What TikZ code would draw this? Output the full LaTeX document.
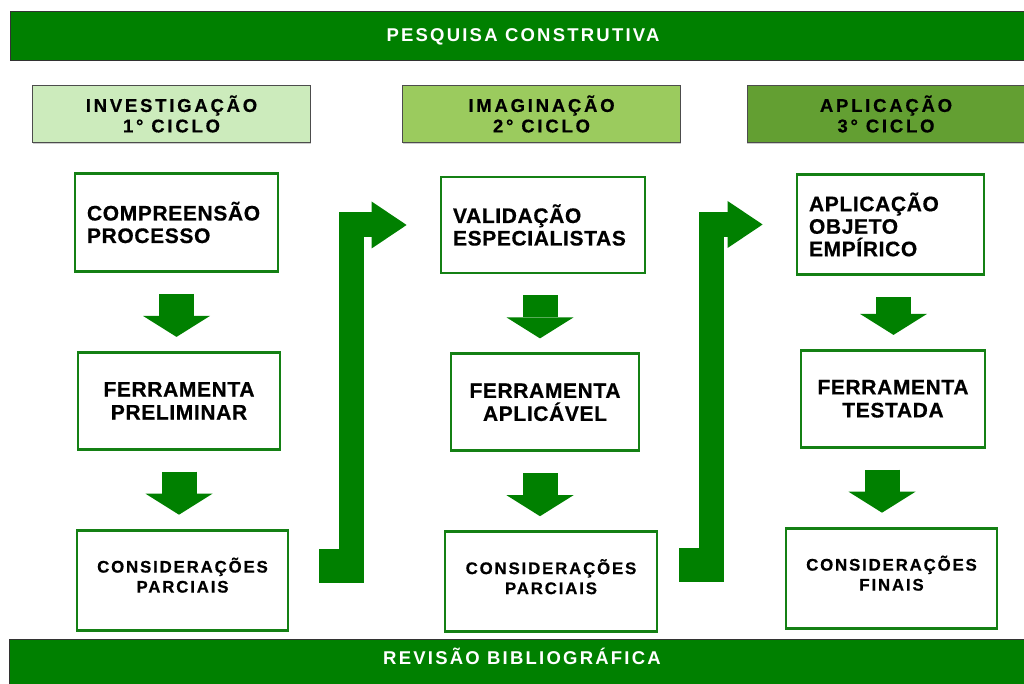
\documentclass[tikz,border=0pt]{standalone}
\usepackage{fontspec}
\setmainfont{Liberation Sans}
\newfontfamily\titlefont[LetterSpace=12]{Liberation Sans}
\newfontfamily\cyclefont[LetterSpace=15, FakeBold=0.5]{Liberation Sans}
\newfontfamily\stepfont[LetterSpace=3, FakeBold=0.6]{Liberation Sans}
\newfontfamily\notefont[LetterSpace=11, FakeBold=0.6]{Liberation Sans}
\usetikzlibrary{positioning, arrows.meta, shadows}
\definecolor{bargreen}{RGB}{0,128,0}
\definecolor{boxgreen}{RGB}{20,128,20}
\definecolor{cyclelight}{RGB}{204,235,188}
\definecolor{cyclemid}{RGB}{155,203,94}
\definecolor{cycledark}{RGB}{99,159,50}

\begin{document}
\begin{tikzpicture}[x=1pt, y=-1pt, node distance=78pt,
bar/.style={rectangle, draw=black!80, line width=1pt, fill=bargreen, text=white,
minimum width=1026pt, minimum height=49pt, inner sep=0pt, text height=14pt,
font=\titlefont\bfseries\fontsize{18.5}{21}\selectfont},
cyclebox/.style={rectangle, draw=black!70, line width=1pt, fill=#1,
minimum width=278pt, minimum height=57pt, align=center, inner sep=0pt,
font=\cyclefont\bfseries\fontsize{18.5}{20.5}\selectfont,
drop shadow={shadow xshift=0pt, shadow yshift=-2pt, opacity=0.4}},
stepbox/.style={rectangle, draw=boxgreen, line width=2.8pt, fill=white,
minimum width=#1, minimum height=97pt, inner sep=0pt, align=center,
font=\stepfont\bfseries\fontsize{21}{23}\selectfont},
firstbox/.style={rectangle, draw=boxgreen, line width=2.8pt, fill=white,
text width=#1, inner xsep=12pt, minimum height=98pt, align=left,
font=\stepfont\bfseries\fontsize{21}{22.5}\selectfont},
notebox/.style={stepbox=#1, minimum height=100pt, text depth=10pt,
font=\notefont\bfseries\fontsize{16.8}{20}\selectfont},
down/.style={line width=35pt, draw=bargreen, shorten <=21pt, shorten >=14pt,
-{Triangle[width=67pt, length=21pt, line width=0pt]}},
bent/.style={line width=25pt, draw=bargreen, line join=miter, shorten >=33pt,
-{Triangle[width=47pt, length=35pt, line width=0pt]}},
foot/.style={rectangle, fill=bargreen, minimum width=45pt, minimum height=34pt, inner sep=0pt}
]
\useasboundingbox (0,0) rectangle (1024,684);

% Bars
\node[bar] (pesquisa) at (523,36.5) {PESQUISA CONSTRUTIVA};
\node[bar, text depth=13pt] (revisao) at (522,663.5) {REVISÃO BIBLIOGRÁFICA};

% Cycles
\node[cyclebox=cyclelight] (ciclo1) at (171.5,114) {INVESTIGAÇÃO\\1° CICLO};
\node[cyclebox=cyclemid] (ciclo2) at (541.5,114) {IMAGINAÇÃO\\2° CICLO};
\node[cyclebox=cycledark] (ciclo3) at (886,114) {APLICAÇÃO\\3° CICLO};

% Column 1
\node[firstbox=179pt] (compreensao) at (176.5,222.5) {COMPREENSÃO\\PROCESSO};
\node[stepbox=202pt, below=of compreensao, xshift=2.5pt] (preliminar) {FERRAMENTA\\PRELIMINAR};
\node[notebox=211pt, below=of preliminar, xshift=3.5pt] (parciais1) {CONSIDERAÇÕES\\PARCIAIS};

% Column 2
\node[firstbox=180pt, minimum height=96pt] (validacao) at (543,225) {VALIDAÇÃO\\ESPECIALISTAS};
\node[stepbox=188pt, below=of validacao, xshift=2pt] (aplicavel) {FERRAMENTA\\APLICÁVEL};
\node[notebox=212pt, below=of aplicavel, xshift=6pt] (parciais2) {CONSIDERAÇÕES\\PARCIAIS};

% Column 3
\node[firstbox=163pt, minimum height=100pt] (empirico) at (890.5,224.5) {APLICAÇÃO\\OBJETO\\EMPÍRICO};
\node[stepbox=184pt, below=73pt of empirico, xshift=2.5pt] (testada) {FERRAMENTA\\TESTADA};
\node[notebox=211pt, below=of testada, xshift=-1.5pt] (finais) {CONSIDERAÇÕES\\FINAIS};

% Feet of the bent arrows
\node[foot] (foot1) at (341.5,566) {};
\node[foot] (foot2) at (701.5,565) {};

% Arrows
\draw[down] (compreensao.south) -- (compreensao.south |- preliminar.north);
\draw[down] (preliminar.south) -- (preliminar.south |- parciais1.north);
\draw[down] ([xshift=-3pt]validacao.south) -- ([xshift=-3pt]validacao.south |- aplicavel.north);
\draw[down] ([xshift=-5pt]aplicavel.south) -- ([xshift=-5pt]aplicavel.south |- parciais2.north);
\draw[down] ([xshift=3pt]empirico.south) -- ([xshift=3pt]empirico.south |- testada.north);
\draw[down] ([xshift=-11pt]testada.south) -- ([xshift=-11pt]testada.south |- finais.north);
\draw[bent] ([xshift=-13pt]foot1.south east) |- (validacao.west);
\draw[bent] ([xshift=-13pt]foot2.south east) |- (empirico.west);

\end{tikzpicture}
\end{document}
